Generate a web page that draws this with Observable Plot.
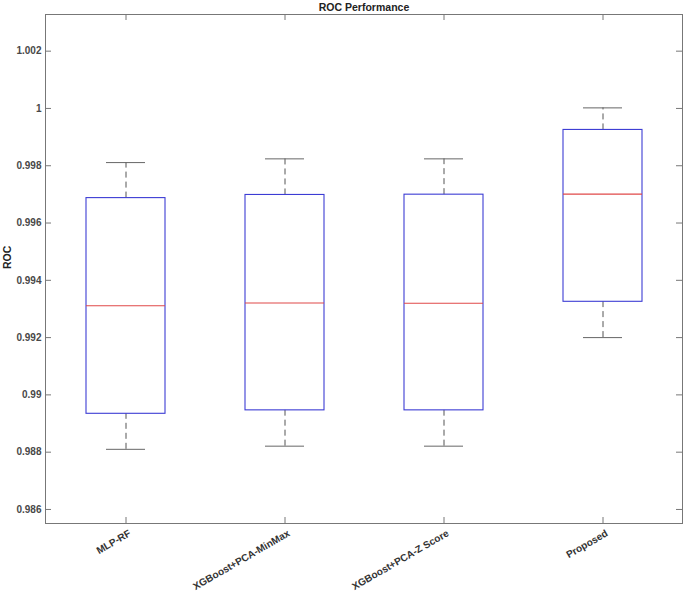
<!DOCTYPE html>
<html>
<head>
<meta charset="utf-8">
<script src="https://cdn.jsdelivr.net/npm/d3@7"></script>
<script src="https://cdn.jsdelivr.net/npm/@observablehq/plot@0.6"></script>
<style>
  html, body { margin: 0; padding: 0; background: #fff; }
  #chart svg { display: block; }
</style>
</head>
<body>
<div id="chart"></div>
<script>
const categories = ["MLP-RF", "XGBoost+PCA-MinMax", "XGBoost+PCA-Z Score", "Proposed"];
const lowerWhisker = [0.98810, 0.98821, 0.98821, 0.99200];
const q1 = [0.98934, 0.98946, 0.98946, 0.99325];
const median = [0.99311, 0.99321, 0.99320, 0.99701];
const q3 = [0.99687, 0.99698, 0.99699, 0.99925];
const upperWhisker = [0.99811, 0.99824, 0.99824, 1.00002];
const yTicks = [0.986, 0.988, 0.990, 0.992, 0.994, 0.996, 0.998, 1.000, 1.002];
const yDomain = [0.98551, 1.00328];

const data = categories.map((name, i) => ({
  name, lo: lowerWhisker[i], q1: q1[i], med: median[i], q3: q3[i], hi: upperWhisker[i]
}));

const W = 685, H = 595;
const mL = 45, mR = 3, mT = 14, mB = 72;
const pw = W - mL - mR, ph = H - mT - mB;
const font = "'Liberation Sans', Arial, sans-serif";
const fmt = d => String(+d.toFixed(3));

const chart = Plot.plot({
  width: W, height: H,
  marginLeft: mL, marginRight: mR, marginTop: mT, marginBottom: mB,
  style: {fontFamily: font, background: "#fff"},
  x: {type: "band", domain: categories, padding: 0, axis: null},
  y: {domain: yDomain, axis: null},
  marks: [
    // whiskers
    Plot.ruleX(data, {x: "name", y1: "q3", y2: "hi", stroke: "#555", strokeDasharray: "6,4"}),
    Plot.ruleX(data, {x: "name", y1: "lo", y2: "q1", stroke: "#555", strokeDasharray: "6,4"}),
    Plot.tickY(data, {x: "name", y: "hi", inset: 60, stroke: "#666"}),
    Plot.tickY(data, {x: "name", y: "lo", inset: 60, stroke: "#666"}),
    // boxes
    Plot.barY(data, {x: "name", y1: "q1", y2: "q3", insetLeft: 40, insetRight: 40, fill: "none", stroke: "#3c3cd4", strokeWidth: 1.1}),
    Plot.tickY(data, {x: "name", y: "med", inset: 40, stroke: "#e04848", strokeWidth: 1.1}),
    // frame and inward ticks
    Plot.frame({stroke: "#777"}),
    Plot.tickY(yTicks, {y: d => d, insetRight: pw - 6, stroke: "#777"}),
    Plot.tickY(yTicks, {y: d => d, insetLeft: pw - 6, stroke: "#777"}),
    Plot.tickX(categories, {x: d => d, insetTop: ph - 6, stroke: "#777"}),
    Plot.tickX(categories, {x: d => d, insetBottom: ph - 6, stroke: "#777"}),
    // axes labels
    Plot.axisY(yTicks, {tickSize: 0, tickPadding: 4, tickFormat: fmt, fontWeight: "bold", fontSize: 10, fill: "#484848", label: null}),
    Plot.axisX({tickSize: 0, tickPadding: 9, tickRotate: -30, dx: 4, fontWeight: "bold", fontSize: 10, fill: "#333", label: null}),
    Plot.text(["ROC"], {frameAnchor: "left", rotate: -90, dx: -38, fontWeight: "bold", fontSize: 10.5, fill: "#222"}),
    Plot.text(["ROC Performance"], {frameAnchor: "top", lineAnchor: "bottom", dy: -4, fontWeight: "bold", fontSize: 10.5, fill: "#222"})
  ]
});
document.getElementById("chart").appendChild(chart);
</script>
</body>
</html>
